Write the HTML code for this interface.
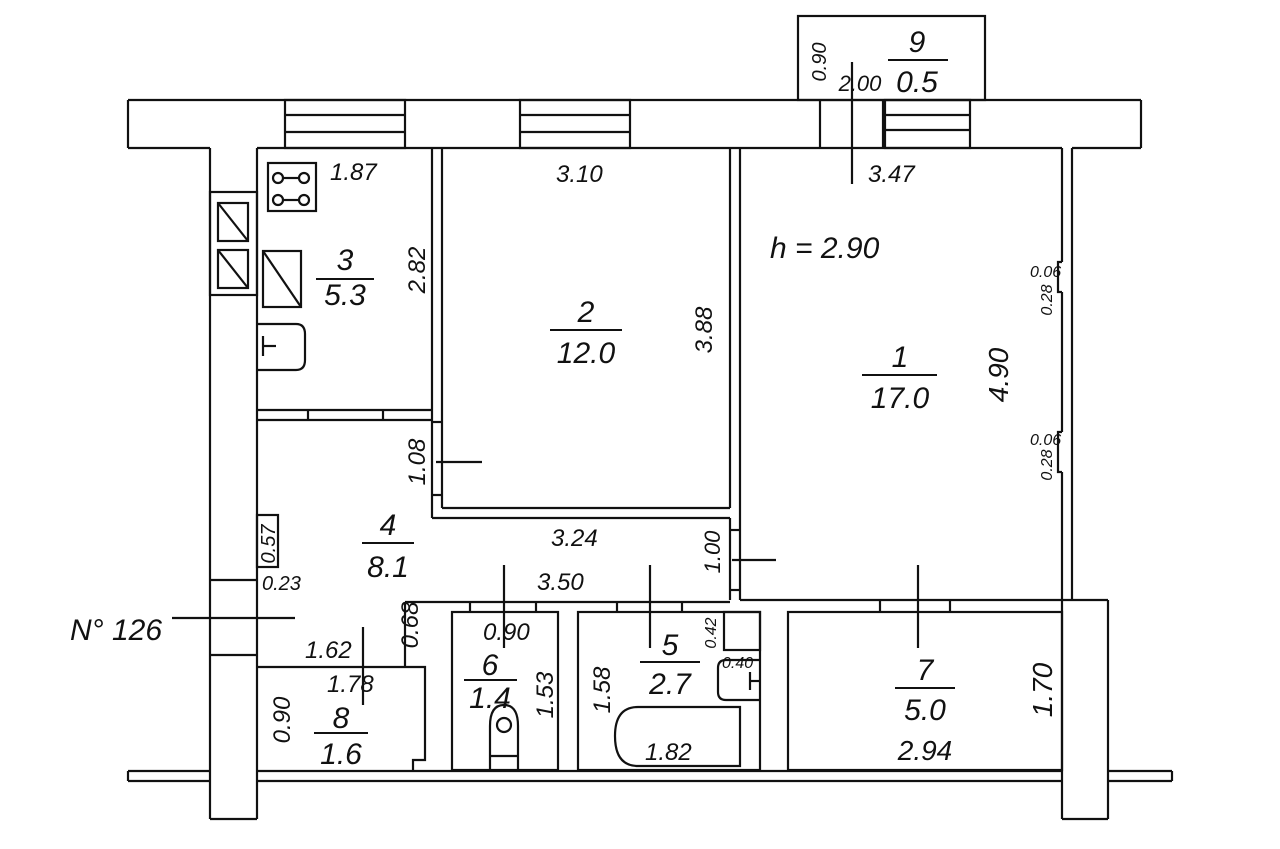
<!DOCTYPE html>
<html><head><meta charset="utf-8"><style>
html,body{margin:0;padding:0;background:#fff}
svg{display:block}
text{font-family:"Liberation Sans",sans-serif;font-style:italic;fill:#111}
</style></head><body>
<svg width="1280" height="849" viewBox="0 0 1280 849" xmlns="http://www.w3.org/2000/svg">
<g fill="none" stroke="#111" stroke-width="2.2">
<rect x="798" y="16" width="187" height="84"/>
<!-- top wall -->
<line x1="128" y1="100" x2="1141" y2="100"/>
<line x1="128" y1="100" x2="128" y2="148"/>
<line x1="1141" y1="100" x2="1141" y2="148"/>
<line x1="128" y1="148" x2="210" y2="148"/>
<line x1="257" y1="148" x2="1062" y2="148"/>
<line x1="1072" y1="148" x2="1141" y2="148"/>
<!-- windows -->
<rect x="285" y="100" width="120" height="48"/>
<line x1="285" y1="115" x2="405" y2="115"/><line x1="285" y1="132" x2="405" y2="132"/>
<rect x="520" y="100" width="110" height="48"/>
<line x1="520" y1="115" x2="630" y2="115"/><line x1="520" y1="132" x2="630" y2="132"/>
<rect x="885" y="100" width="85" height="48"/>
<line x1="885" y1="115" x2="970" y2="115"/><line x1="885" y1="130" x2="970" y2="130"/>
<line x1="820" y1="100" x2="820" y2="148"/><line x1="883" y1="100" x2="883" y2="148"/>
<!-- left outer strip -->
<line x1="210" y1="148" x2="210" y2="819"/>
<line x1="257" y1="148" x2="257" y2="819"/>
<line x1="210" y1="819" x2="257" y2="819"/>
<line x1="210" y1="580" x2="257" y2="580"/>
<line x1="210" y1="655" x2="257" y2="655"/>
<rect x="210" y="192" width="47" height="103"/>
<rect x="218" y="203" width="30" height="38"/><line x1="218" y1="203" x2="248" y2="241"/>
<rect x="218" y="250" width="30" height="38"/><line x1="218" y1="250" x2="248" y2="288"/>
<!-- kitchen fixtures -->
<rect x="268" y="163" width="48" height="48"/>
<circle cx="278" cy="178" r="5"/><circle cx="304" cy="178" r="5"/>
<circle cx="278" cy="200" r="5"/><circle cx="304" cy="200" r="5"/>
<line x1="283" y1="178" x2="299" y2="178"/><line x1="283" y1="200" x2="299" y2="200"/>
<rect x="263" y="251" width="38" height="56"/><line x1="263" y1="251" x2="301" y2="307"/>
<path d="M258 324 H296 Q305 324 305 334 V360 Q305 370 296 370 H258"/>
<line x1="263" y1="336" x2="263" y2="356"/><line x1="263" y1="346" x2="276" y2="346"/>
<line x1="432" y1="148" x2="432" y2="518"/><line x1="442" y1="148" x2="442" y2="508"/>
<line x1="432" y1="422" x2="442" y2="422"/><line x1="432" y1="495" x2="442" y2="495"/>
<line x1="257" y1="410" x2="432" y2="410"/><line x1="257" y1="420" x2="432" y2="420"/>
<line x1="308" y1="410" x2="308" y2="420"/><line x1="383" y1="410" x2="383" y2="420"/>
<line x1="730" y1="148" x2="730" y2="508"/><line x1="740" y1="148" x2="740" y2="600"/>
<line x1="442" y1="508" x2="730" y2="508"/><line x1="432" y1="518" x2="730" y2="518"/>
<line x1="730" y1="518" x2="730" y2="600"/>
<line x1="730" y1="530" x2="740" y2="530"/><line x1="730" y1="590" x2="740" y2="590"/>
<line x1="1062" y1="148" x2="1062" y2="262"/>
<path d="M1062 262 H1058 V292 H1062"/>
<line x1="1062" y1="292" x2="1062" y2="432"/>
<path d="M1062 432 H1058 V472 H1062"/>
<line x1="1062" y1="472" x2="1062" y2="600"/>
<line x1="1072" y1="148" x2="1072" y2="600"/>
<rect x="257" y="515" width="21" height="52"/>
<line x1="405" y1="602" x2="730" y2="602"/>
<line x1="740" y1="600" x2="1108" y2="600"/>
<line x1="405" y1="602" x2="405" y2="667"/>
<line x1="1108" y1="600" x2="1108" y2="819"/>
<line x1="1062" y1="819" x2="1108" y2="819"/>
<line x1="1062" y1="600" x2="1062" y2="819"/>
<path d="M257 667 H425 V760 H413 V771"/>
<rect x="452" y="612" width="106" height="158"/>
<line x1="470" y1="602" x2="470" y2="612"/><line x1="536" y1="602" x2="536" y2="612"/>
<path d="M490 770 V726 Q490 705 504 705 Q518 705 518 726 V770"/>
<line x1="490" y1="756" x2="518" y2="756"/>
<circle cx="504" cy="725" r="7"/>
<rect x="578" y="612" width="182" height="158"/>
<line x1="617" y1="602" x2="617" y2="612"/><line x1="682" y1="602" x2="682" y2="612"/>
<rect x="724" y="612" width="36" height="38"/>
<path d="M760 660 H726 Q718 660 718 668 V692 Q718 700 726 700 H760"/>
<line x1="750" y1="672" x2="750" y2="690"/><line x1="750" y1="681" x2="760" y2="681"/>
<path d="M740 766 V707 H638 Q615 707 615 736 Q615 766 638 766 Z"/>
<rect x="788" y="612" width="274" height="158"/>
<line x1="880" y1="600" x2="880" y2="612"/><line x1="950" y1="600" x2="950" y2="612"/>
<line x1="128" y1="771" x2="210" y2="771"/><line x1="128" y1="781" x2="210" y2="781"/>
<line x1="128" y1="771" x2="128" y2="781"/>
<line x1="257" y1="771" x2="1062" y2="771"/><line x1="257" y1="781" x2="1062" y2="781"/>
<line x1="1108" y1="771" x2="1172" y2="771"/><line x1="1108" y1="781" x2="1172" y2="781"/>
<line x1="1172" y1="771" x2="1172" y2="781"/>
<line x1="852" y1="62" x2="852" y2="184"/>
<line x1="436" y1="462" x2="482" y2="462"/>
<line x1="732" y1="560" x2="776" y2="560"/>
<line x1="504" y1="565" x2="504" y2="648"/>
<line x1="650" y1="565" x2="650" y2="648"/>
<line x1="918" y1="565" x2="918" y2="648"/>
<line x1="363" y1="627" x2="363" y2="705"/>
<line x1="172" y1="618" x2="295" y2="618"/>
<line x1="888" y1="60" x2="948" y2="60" stroke-width="2"/>
<line x1="316" y1="279" x2="374" y2="279" stroke-width="2"/>
<line x1="550" y1="330" x2="622" y2="330" stroke-width="2"/>
<line x1="862" y1="375" x2="937" y2="375" stroke-width="2"/>
<line x1="362" y1="543" x2="414" y2="543" stroke-width="2"/>
<line x1="464" y1="680" x2="517" y2="680" stroke-width="2"/>
<line x1="640" y1="662" x2="700" y2="662" stroke-width="2"/>
<line x1="895" y1="688" x2="955" y2="688" stroke-width="2"/>
<line x1="314" y1="733" x2="368" y2="733" stroke-width="2"/>
</g>
<g font-size="24">
<text x="917" y="52" font-size="30" text-anchor="middle">9</text>
<text x="917" y="92" font-size="30" text-anchor="middle">0.5</text>
<text x="860" y="91" font-size="22" text-anchor="middle">2.00</text>
<text transform="translate(826,62) rotate(-90)" font-size="20" text-anchor="middle">0.90</text>
<text x="330" y="180">1.87</text>
<text x="556" y="182">3.10</text>
<text x="868" y="182">3.47</text>
<text x="770" y="258" font-size="30">h = 2.90</text>
<text x="345" y="270" font-size="30" text-anchor="middle">3</text>
<text x="345" y="305" font-size="30" text-anchor="middle">5.3</text>
<text transform="translate(425,270) rotate(-90)" text-anchor="middle">2.82</text>
<text x="586" y="322" font-size="30" text-anchor="middle">2</text>
<text x="586" y="363" font-size="30" text-anchor="middle">12.0</text>
<text transform="translate(712,330) rotate(-90)" text-anchor="middle">3.88</text>
<text x="900" y="367" font-size="30" text-anchor="middle">1</text>
<text x="900" y="408" font-size="30" text-anchor="middle">17.0</text>
<text transform="translate(1008,375) rotate(-90)" font-size="28" text-anchor="middle">4.90</text>
<text x="1030" y="277" font-size="16">0.06</text>
<text transform="translate(1052,300) rotate(-90)" font-size="16" text-anchor="middle">0.28</text>
<text x="1030" y="445" font-size="16">0.06</text>
<text transform="translate(1052,465) rotate(-90)" font-size="16" text-anchor="middle">0.28</text>
<text transform="translate(425,462) rotate(-90)" text-anchor="middle">1.08</text>
<text x="388" y="535" font-size="30" text-anchor="middle">4</text>
<text x="388" y="577" font-size="30" text-anchor="middle">8.1</text>
<text transform="translate(275,544) rotate(-90)" font-size="20" text-anchor="middle">0.57</text>
<text x="262" y="590" font-size="20">0.23</text>
<text x="551" y="546">3.24</text>
<text x="537" y="590">3.50</text>
<text transform="translate(720,552) rotate(-90)" font-size="22" text-anchor="middle">1.00</text>
<text transform="translate(418,625) rotate(-90)" text-anchor="middle">0.68</text>
<text x="70" y="640" font-size="30">N° 126</text>
<text x="305" y="658">1.62</text>
<text x="327" y="692">1.78</text>
<text x="341" y="728" font-size="30" text-anchor="middle">8</text>
<text x="341" y="764" font-size="30" text-anchor="middle">1.6</text>
<text transform="translate(290,720) rotate(-90)" text-anchor="middle">0.90</text>
<text x="483" y="640">0.90</text>
<text x="490" y="675" font-size="30" text-anchor="middle">6</text>
<text x="490" y="708" font-size="30" text-anchor="middle">1.4</text>
<text transform="translate(553,695) rotate(-90)" text-anchor="middle">1.53</text>
<text x="670" y="655" font-size="30" text-anchor="middle">5</text>
<text x="670" y="694" font-size="30" text-anchor="middle">2.7</text>
<text transform="translate(716,633) rotate(-90)" font-size="16" text-anchor="middle">0.42</text>
<text x="722" y="668" font-size="16">0.40</text>
<text transform="translate(610,690) rotate(-90)" text-anchor="middle">1.58</text>
<text x="645" y="760">1.82</text>
<text x="925" y="680" font-size="30" text-anchor="middle">7</text>
<text x="925" y="720" font-size="30" text-anchor="middle">5.0</text>
<text x="925" y="760" font-size="28" text-anchor="middle">2.94</text>
<text transform="translate(1052,690) rotate(-90)" font-size="28" text-anchor="middle">1.70</text>
</g>
</svg>
</body></html>
